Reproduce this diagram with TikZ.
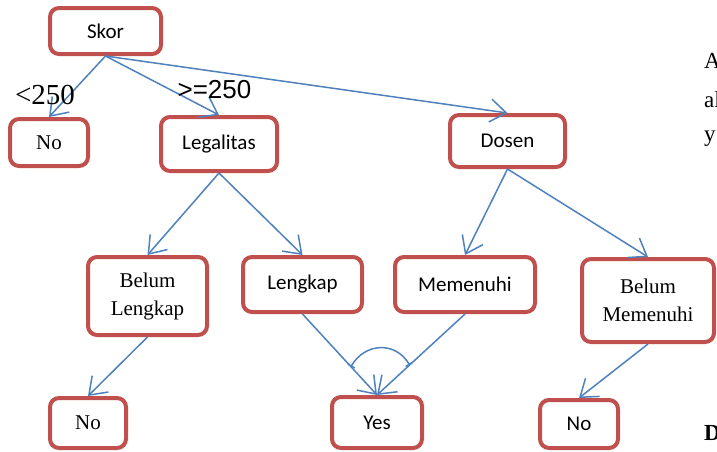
\documentclass[tikz,border=0pt]{standalone}
\usepackage{fontspec}
\setmainfont{Liberation Serif}
\newfontfamily\calfont{Carlito}
\newfontfamily\arialfont{Liberation Sans}
\usetikzlibrary{arrows.meta,calc}
\definecolor{boxred}{RGB}{192,80,77}
\definecolor{arrblue}{RGB}{79,129,189}
\begin{document}
\begin{tikzpicture}[x=1pt,y=-1pt,
  box/.style={draw=boxred,line width=4pt,rounded corners=9pt,fill=white,inner sep=0pt,align=center},
  sansbox/.style={box,font=\calfont\fontsize{21}{26}\selectfont},
  serifbox/.style={box,font=\fontsize{21}{28}\selectfont},
  conn/.style={draw=arrblue,line width=1.5pt,-{Straight Barb[length=16pt,width=23pt]}},
  lbl/.style={inner sep=0pt},
]
\fill[white] (0,0) rectangle (717,451);
\useasboundingbox (0,0) rectangle (717,451);

% nodes
\node[sansbox,minimum width=111pt,minimum height=46pt] (skor) at (105.5,31) {Skor};
\node[serifbox,minimum width=78pt,minimum height=47pt] (no1) at (49,142.5) {No};
\node[sansbox,minimum width=116pt,minimum height=54pt] (legal) at (219,144) {Legalitas};
\node[sansbox,minimum width=115pt,minimum height=52pt] (dosen) at (507.5,141) {Dosen};
\node[serifbox,minimum width=119pt,minimum height=78pt] (belumL) at (147.5,296) {Belum\\Lengkap};
\node[sansbox,minimum width=119pt,minimum height=55pt] (lengkap) at (302.5,284.5) {Lengkap};
\node[sansbox,minimum width=140pt,minimum height=55pt] (memenuhi) at (465,284.5) {Memenuhi};
\node[serifbox,minimum width=132pt,minimum height=83pt] (belumM) at (648,300.5) {Belum\\Memenuhi};
\node[serifbox,minimum width=76pt,minimum height=50pt] (no2) at (88,423) {No};
\node[sansbox,minimum width=90pt,minimum height=51pt] (yes) at (377,422.5) {Yes};
\node[sansbox,minimum width=78pt,minimum height=48pt] (no3) at (579,424) {No};

% connectors
\draw[conn] (skor.south) -- (no1.north);
\draw[conn] (skor.south) -- (legal.north);
\draw[conn] (skor.south) -- (dosen.north);
\draw[conn] (legal.south) -- (belumL.north);
\draw[conn] (legal.south) -- (lengkap.north);
\draw[conn] (dosen.south) -- (memenuhi.north);
\draw[conn] (dosen.south) -- (belumM.north);
\draw[conn] (belumL.south) -- (no2.north);
\draw[conn] (lengkap.south) -- (yes.north);
\draw[conn] (memenuhi.south) -- (yes.north);
\draw[conn] (belumM.south) -- (no3.north);

% AND arc
\coordinate (a1) at ($(lengkap.south)!0.65!(yes.north)$);
\coordinate (a2) at ($(memenuhi.south)!0.63!(yes.north)$);
\draw[arrblue,line width=1.5pt,{Bar[width=8pt]}-{Bar[width=8pt]}] (a1) .. controls +(14,-24) and +(-14,-24) .. (a2);

% labels
\node[lbl,font=\fontsize{29}{29}\selectfont] (lt) at (45,95) {<250};
\node[lbl,font=\arialfont\fontsize{26}{26}\selectfont] (ge) at (214.5,90) {>=250};

% cropped page text at right edge
\node[lbl,anchor=base west,font=\fontsize{23}{23}\selectfont] (tA) at (704,68) {A};
\node[lbl,anchor=base west,font=\fontsize{23}{23}\selectfont] (tal) at (704,107) {al};
\node[lbl,anchor=base west,font=\fontsize{23}{23}\selectfont] (ty) at (704,141) {y};
\node[lbl,anchor=base west,font=\bfseries\fontsize{23}{23}\selectfont] (tD) at (704,440) {D};
\end{tikzpicture}
\end{document}
